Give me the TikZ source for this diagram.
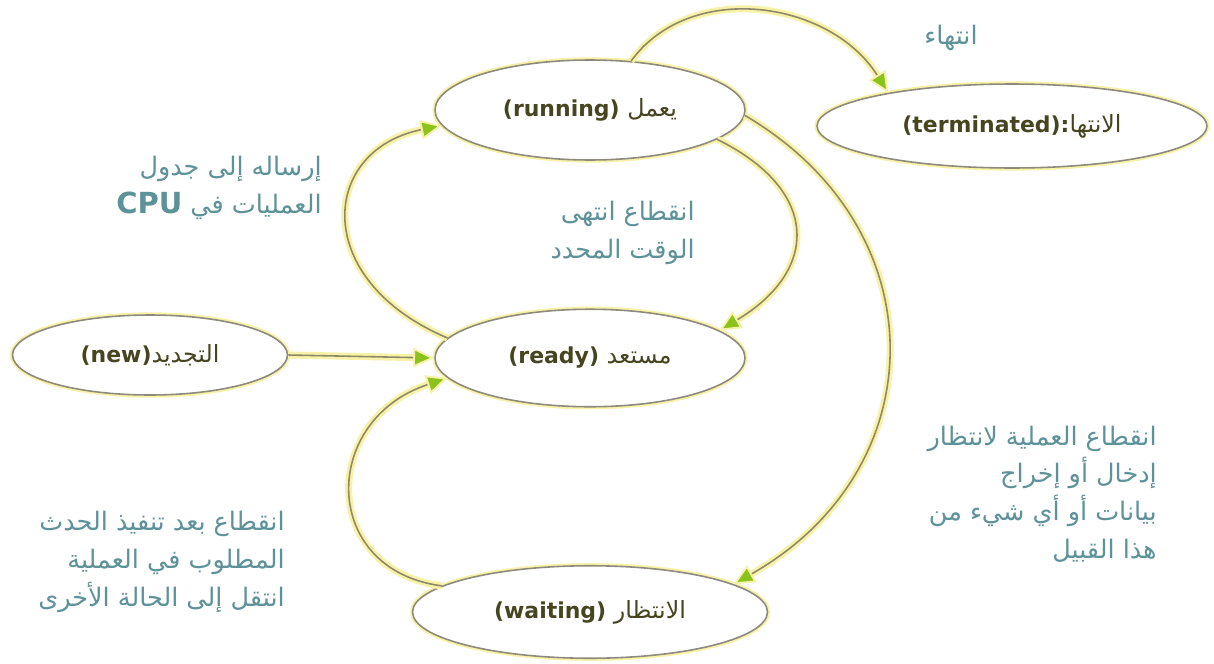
\documentclass[tikz,border=0pt]{standalone}
\usepackage{fontspec}
\setmainfont{DejaVu Sans}
\newfontfamily\arabicfont[Script=Arabic]{DejaVu Sans}
\TeXXeTstate=1
\usetikzlibrary{shapes.geometric,arrows.meta}

\definecolor{glow}{HTML}{F7F2A8}
\definecolor{wire}{HTML}{8E8A68}
\definecolor{tipgreen}{HTML}{8CC21C}
\definecolor{ring}{HTML}{8C8A7C}
\definecolor{statetext}{HTML}{46451F}
\definecolor{notetext}{HTML}{5E9299}

% Arabic word inside a state bubble
\newcommand\arword[1]{{\arabicfont\mdseries\fontsize{13.5}{14}\selectfont\beginR #1\endR}}

\tikzset{
  x=0.02cm, y=-0.02cm,
  state/.style={ellipse, draw=ring, line width=0.9pt, fill=white,
    preaction={draw=glow, line width=3pt},
    text=statetext, inner sep=0pt,
    font=\fontsize{12.5}{14}\selectfont\bfseries},
  flow/.style={draw=wire, line width=0.9pt,
    preaction={draw=glow, line width=4pt},
    -{Triangle[length=0.42cm, width=0.38cm, color=glow, fill=tipgreen, line width=1pt]}},
  note/.style={text=notetext, align=right, inner sep=0pt,
    font=\arabicfont\fontsize{14.5}{21.5}\selectfont}
}

\begin{document}
\begin{tikzpicture}
\useasboundingbox (0,0) rectangle (1214,663);
\fill[white] (0,0) rectangle (1214,663);

% states
\node[state, minimum width=6.2cm, minimum height=2cm] (run) at (590,110)
  {(running) \arword{يعمل}};
\node[state, minimum width=7.8cm, minimum height=1.68cm] (term) at (1012,126)
  {(terminated):\arword{الانتها}};
\node[state, minimum width=5.5cm, minimum height=1.6cm] (new) at (150,355)
  {(new)\arword{التجديد}};
\node[state, minimum width=6.2cm, minimum height=1.95cm] (ready) at (590,358)
  {(ready) \arword{مستعد}};
\node[state, minimum width=7.1cm, minimum height=1.85cm] (wait) at (590,612)
  {(waiting) \arword{الانتظار}};

% transitions
\draw[flow] (new.east) -- (ready.west);
\draw[flow] (ready.172) .. controls (310,280) and (320,150) .. (run.186);
\draw[flow] (run.-13) .. controls (820,190) and (820,270) .. (ready.12);
\draw[flow] (run.50) .. controls (690,-20) and (830,0) .. (term.165);
\draw[flow] (run.-2) .. controls (940,230) and (935,470) .. (wait.11);
\draw[flow] (wait.170) .. controls (320,570) and (320,420) .. (ready.188);

% transition labels
\node[note, anchor=east] (lbl-exit) at (978,38) {\beginR انتهاء\endR};
\node[note, anchor=east] (lbl-dispatch) at (322,188)
  {\beginR إرساله إلى جدول\endR\\\beginR العمليات في \beginL\textbf{\fontsize{16.5}{20}\selectfont CPU}\endL\endR};
\node[note, anchor=east] (lbl-timeout) at (695,233)
  {\beginR انقطاع انتهى\endR\\\beginR الوقت المحدد\endR};
\node[note, anchor=east] (lbl-io) at (1157,494)
  {\beginR انقطاع العملية لانتظار\endR\\\beginR إدخال أو إخراج\endR\\\beginR بيانات أو أي شيء من\endR\\\beginR هذا القبيل\endR};
\node[note, anchor=east] (lbl-event) at (285,562)
  {\beginR انقطاع بعد تنفيذ الحدث\endR\\\beginR المطلوب في العملية\endR\\\beginR انتقل إلى الحالة الأخرى\endR};
\end{tikzpicture}
\end{document}
